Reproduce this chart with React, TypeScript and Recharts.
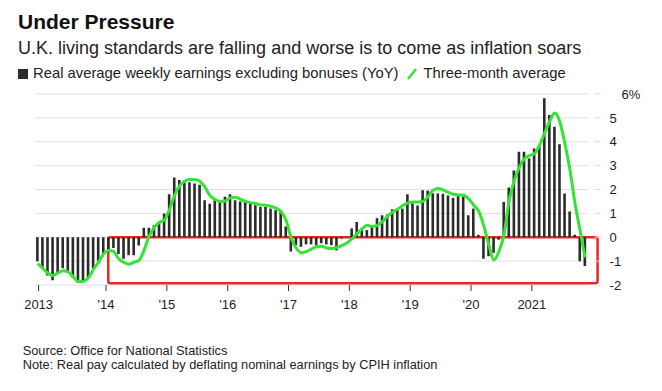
import React from 'react';
import { ComposedChart, Bar, Line, XAxis, YAxis, CartesianGrid, ReferenceArea } from 'recharts';

// Monthly real average weekly earnings excl. bonuses (YoY, %), Nov 2012 .. Nov 2021
const earnings: number[] = [
  -1.0, -1.3, -1.6, -1.8, -1.5, -1.3, -1.5, -1.7, -1.9, -1.8, -1.7, -1.3, -1.0, -0.7,
  -0.5, -0.45, -0.7, -0.9, -0.75, -0.75, -0.35, 0.4, 0.4, 0.5, 0.6, 1.0,
  1.8, 2.5, 2.4, 2.3, 2.3, 2.25, 2.2, 1.55, 1.4, 1.55, 1.55, 1.7,
  1.8, 1.55, 1.5, 1.55, 1.4, 1.34, 1.27, 1.27, 1.2, 1.13, 1.13, 0.45,
  -0.6, -0.33, -0.4, -0.3, -0.3, -0.33, -0.25, -0.3, -0.33, -0.55, -0.05, 0.02,
  0.37, 0.64, 0.3, 0.3, 0.45, 0.8, 0.92, 0.95, 1.17, 1.17, 1.2, 1.8,
  1.42, 1.33, 1.97, 1.95, 1.84, 1.84, 1.82, 1.75, 1.65, 1.75, 1.7, 0.92,
  1.2, 0.1, -0.9, -0.8, -0.65, -0.1, 1.48, 2.08, 2.8, 3.58, 3.58, 3.3,
  3.72, 3.8, 5.82, 5.12, 4.63, 3.9, 1.83, 1.08, 0.1, -1.0, -1.2,
];

// Three-month average (%)
const threeMonthAvg: number[] = [
  -1.1, -1.3, -1.5, -1.6, -1.5, -1.4, -1.45, -1.65, -1.85, -1.85, -1.7, -1.35, -1.05, -0.7,
  -0.55, -0.6, -0.9, -1.05, -1.13, -1.05, -0.97, -0.55, 0.05, 0.4, 0.62, 0.72,
  1.15, 1.75, 2.15, 2.35, 2.42, 2.42, 2.35, 2.1, 1.75, 1.58, 1.5, 1.52,
  1.65, 1.68, 1.6, 1.5, 1.45, 1.41, 1.36, 1.34, 1.3, 1.22, 1.08, 0.72,
  -0.02, -0.45, -0.65, -0.6, -0.5, -0.4, -0.38, -0.45, -0.47, -0.43, -0.35, -0.24,
  -0.07, 0.15, 0.35, 0.5, 0.45, 0.5, 0.65, 0.87, 1.05, 1.17, 1.32, 1.43,
  1.48, 1.48, 1.5, 1.7, 1.97, 2.04, 1.98, 1.88, 1.8, 1.77, 1.76, 1.62,
  1.35, 1.1, 0.5, -0.3, -0.95, -0.6, 0.1, 1.5, 2.35, 2.92, 3.28, 3.42,
  3.5, 3.85, 4.35, 4.85, 5.2, 4.85, 3.95, 2.85, 1.45, 0.3, -0.85,
];

const xTickPositions: number[] = [0.2, 13.5, 25.5, 37.5, 49.5, 61.5, 73.5, 85.5, 97.5];
const xTickLabels: string[] = ['2013', "'14", "'15", "'16", "'17", "'18", "'19", "'20", '2021'];
const yTicks: number[] = [-2, -1, 0, 1, 2, 3, 4, 5, 6];

const seriesName = 'Real average weekly earnings excluding bonuses (YoY)';
const avgName = 'Three-month average';
const sourceText = 'Source: Office for National Statistics';
const noteText = 'Note: Real pay calculated by deflating nominal earnings by CPIH inflation';

const data = earnings.map((v, i) => ({ i, earnings: v, avg: threeMonthAvg[i] }));

const FONT = '"Liberation Sans", Arial, Helvetica, sans-serif';

const YTick = (props: any) => {
  const { x, y, payload } = props;
  const ax = x - 8;
  const v = payload.value;
  const label = v === 6 ? '6%' : String(v);
  return (
    <g>
      <line x1={ax + 7} x2={ax + 13} y1={y} y2={y} stroke="#d9d9d9" strokeWidth={1} />
      <text x={v === 6 ? ax + 34 : ax + 22} y={y} dy="0.36em" fontSize={13} fill="#222" fontFamily={FONT} textAnchor="start">
        {label}
      </text>
    </g>
  );
};

const XTick = (props: any) => {
  const { x, y, payload } = props;
  const idx = xTickPositions.indexOf(payload.value);
  const label = idx >= 0 ? xTickLabels[idx] : '';
  return (
    <text x={x} y={y} dy="0.71em" fontSize={13} fill="#222" fontFamily={FONT} textAnchor="middle">
      {label}
    </text>
  );
};

export default function App() {
  return (
    <div
      style={{
        position: 'absolute',
        left: 0,
        top: 0,
        width: 662,
        height: 391,
        background: '#fff',
        fontFamily: FONT,
        color: '#111',
        overflow: 'hidden',
      }}
    >
      <div style={{ position: 'absolute', left: 18, top: 11, fontSize: 21, lineHeight: '21px', fontWeight: 700, whiteSpace: 'nowrap' }}>
        Under Pressure
      </div>
      <div style={{ position: 'absolute', left: 18, top: 39, fontSize: 18, lineHeight: '18px', color: '#222', whiteSpace: 'nowrap' }}>
        U.K. living standards are falling and worse is to come as inflation soars
      </div>
      <div
        style={{
          position: 'absolute',
          left: 18,
          top: 66,
          height: 15,
          display: 'flex',
          alignItems: 'center',
          fontSize: 14.8,
          lineHeight: '15px',
          color: '#222',
          whiteSpace: 'nowrap',
        }}
      >
        <span style={{ display: 'inline-block', width: 10, height: 10, background: '#2b2b2b', marginRight: 5 }} />
        <span>{seriesName}</span>
        <svg width={12} height={12} style={{ marginLeft: 7, marginRight: 6 }}>
          <line x1={2} y1={11} x2={10} y2={1} stroke="#35e335" strokeWidth={2.5} />
        </svg>
        <span>{avgName}</span>
      </div>

      <div style={{ position: 'absolute', left: 0, top: 0 }}>
        <ComposedChart
          width={662}
          height={391}
          data={data}
          margin={{ top: 94, right: 14.4, bottom: 76, left: 35.07 }}
          barCategoryGap={0}
        >
          <CartesianGrid vertical={false} horizontal stroke="#e0e0e0" strokeWidth={1} />
          <XAxis
            dataKey="i"
            type="number"
            domain={[-0.5, 108.5]}
            ticks={xTickPositions}
            interval={0}
            allowDataOverflow
            axisLine={false}
            tickLine={{ stroke: '#333', strokeWidth: 1 }}
            tickSize={6}
            tickMargin={9}
            height={30}
            tick={<XTick />}
          />
          <YAxis
            orientation="right"
            type="number"
            domain={[-2, 6]}
            ticks={yTicks}
            interval={0}
            axisLine={false}
            tickLine={false}
            width={60}
            tick={<YTick />}
          />
          <Bar dataKey="earnings" name={seriesName} fill="#2b2b2b" barSize={2.6} isAnimationActive={false} />
          <ReferenceArea
            x1={13.94}
            x2={110.47}
            y1={0}
            y2={-1.925}
            ifOverflow="visible"
            fill="none"
            fillOpacity={0}
            stroke="#e32b24"
            strokeWidth={2.5}
            radius={2}
          />
          <Line
            type="monotone"
            dataKey="avg"
            name={avgName}
            stroke="#35e335"
            strokeWidth={3}
            dot={false}
            activeDot={false}
            isAnimationActive={false}
          />
        </ComposedChart>
      </div>

      <div style={{ position: 'absolute', left: 22.7, top: 344.1, fontSize: 12.8, lineHeight: '14.3px', color: '#222', whiteSpace: 'nowrap' }}>
        {sourceText}
      </div>
      <div style={{ position: 'absolute', left: 22.7, top: 358.4, fontSize: 12.8, lineHeight: '14.3px', color: '#222', whiteSpace: 'nowrap' }}>
        {noteText}
      </div>
    </div>
  );
}
